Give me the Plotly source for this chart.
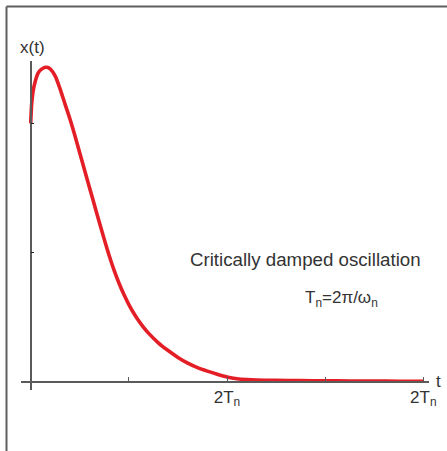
import plotly.graph_objects as go

# Response of a critically damped oscillator (time in units of T_n)
t_vals = [0.000, 0.010, 0.025, 0.050, 0.075, 0.100, 0.125, 0.150, 0.175, 0.200,
          0.250, 0.300, 0.350, 0.400, 0.450, 0.500, 0.550, 0.600, 0.650, 0.700,
          0.750, 0.800, 0.850, 0.900, 0.950, 1.000, 1.050, 1.100, 1.150, 1.200,
          1.300, 1.400, 1.500, 1.600, 1.700, 1.800, 1.900, 2.000, 2.100, 2.200,
          2.300, 2.500, 2.750, 3.000, 3.250, 3.500, 3.750, 4.000]
x_vals = [2.000, 2.150, 2.250, 2.335, 2.388, 2.412, 2.426, 2.433, 2.432, 2.420,
          2.365, 2.265, 2.148, 2.033, 1.905, 1.770, 1.635, 1.500, 1.365, 1.232,
          1.100, 0.975, 0.862, 0.762, 0.674, 0.597, 0.530, 0.472, 0.421, 0.376,
          0.301, 0.241, 0.188, 0.144, 0.109, 0.082, 0.058, 0.037, 0.023, 0.016,
          0.012, 0.010, 0.008, 0.007, 0.006, 0.005, 0.004, 0.004]

x_tick_vals = [1, 2, 3, 4]
x_tick_text = ["", "2T<sub>n</sub>", "", "2T<sub>n</sub>"]
y_tick_vals = [1, 2]

W, H = 447, 451
FONT = "Liberation Sans, Arial, Helvetica, sans-serif"
TXT = "#333333"
AX = "#5a5a5a"

fig = go.Figure()
fig.add_trace(go.Scatter(
    x=t_vals, y=x_vals, mode="lines",
    line=dict(color="#e41e26", width=3.6, shape="spline", smoothing=0.6),
    hoverinfo="skip", showlegend=False,
))

fig.update_layout(
    width=W, height=H,
    margin=dict(l=0, r=0, t=0, b=0, autoexpand=False),
    paper_bgcolor="white", plot_bgcolor="white",
    showlegend=False,
    font=dict(family=FONT, color=TXT, size=17),
    xaxis=dict(
        domain=[21 / W, 429 / W],
        range=[-0.0988, 4.058],
        anchor="free", position=(H - 381.7) / H,
        automargin=False,
        showgrid=False, zeroline=False,
        showline=True, linecolor=AX, linewidth=1.5,
        ticks="inside", ticklen=4, tickwidth=1, tickcolor=AX,
        tickvals=x_tick_vals, ticktext=x_tick_text,
        tickfont=dict(family=FONT, color=TXT, size=17),
    ),
    yaxis=dict(
        domain=[(H - 390) / H, (H - 61) / H],
        range=[-0.0642, 2.482],
        anchor="free", position=30.7 / W,
        automargin=False,
        showgrid=False, zeroline=False,
        showline=True, linecolor=AX, linewidth=1.5,
        ticks="inside", ticklen=3, tickwidth=1, tickcolor="#222222",
        tickvals=y_tick_vals, showticklabels=False,
    ),
)

# Frame lines (top and left edges)
fig.add_shape(type="line", xref="paper", yref="paper",
              x0=6.5 / W, x1=1.0, y0=(H - 6.5) / H, y1=(H - 6.5) / H,
              line=dict(color="#5f5f5f", width=2))
fig.add_shape(type="line", xref="paper", yref="paper",
              x0=6.5 / W, x1=6.5 / W, y0=0.0, y1=(H - 6.5) / H,
              line=dict(color="#5f5f5f", width=2))

# Axis titles and captions
fig.add_annotation(text="x(t)", xref="paper", yref="paper",
                   x=32 / W, y=(H - 47) / H, showarrow=False,
                   xanchor="center", yanchor="middle",
                   font=dict(family=FONT, color=TXT, size=17))
fig.add_annotation(text="t", xref="paper", yref="paper",
                   x=438 / W, y=(H - 381) / H, showarrow=False,
                   xanchor="center", yanchor="middle",
                   font=dict(family=FONT, color=TXT, size=17))
fig.add_annotation(text="Critically damped oscillation", xref="paper", yref="paper",
                   x=188 / W, y=(H - 260) / H, showarrow=False,
                   xanchor="left", yanchor="middle",
                   font=dict(family=FONT, color=TXT, size=18.7))
fig.add_annotation(text="T<sub>n</sub>=2π/ω<sub>n</sub>", xref="paper", yref="paper",
                   x=303 / W, y=(H - 299) / H, showarrow=False,
                   xanchor="left", yanchor="middle",
                   font=dict(family=FONT, color=TXT, size=17))

fig.write_html("out.html")
